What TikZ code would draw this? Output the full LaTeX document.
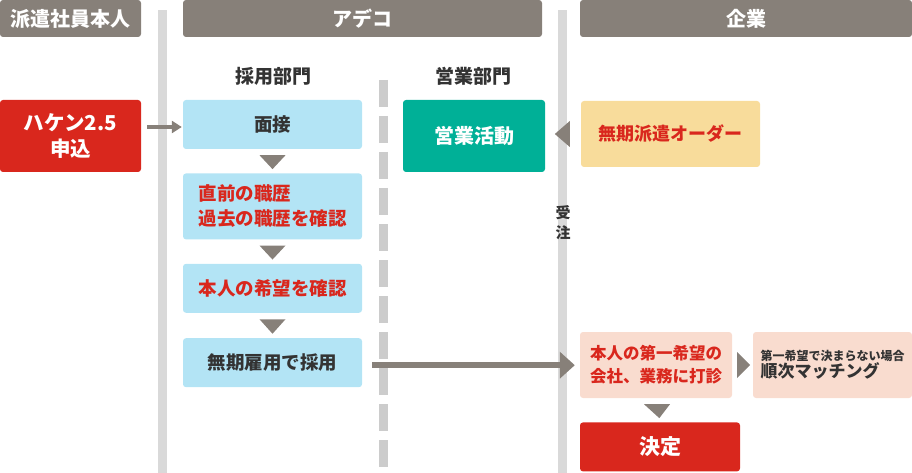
\documentclass[tikz,border=0pt]{standalone}
\usepackage{fontspec}
\setmainfont{Noto Sans CJK JP}
\usepackage{tikz}
\usetikzlibrary{positioning, calc, arrows.meta}

\definecolor{headgray}{HTML}{878079}
\definecolor{bargray}{HTML}{D9D9D9}
\definecolor{dashgray}{HTML}{CCCCCC}
\definecolor{hakenred}{HTML}{D9271D}
\definecolor{skyblue}{HTML}{B3E4F5}
\definecolor{eigyougreen}{HTML}{00B097}
\definecolor{orderyellow}{HTML}{F8DC9B}
\definecolor{peach}{HTML}{F9DCCF}
\definecolor{darktext}{HTML}{333333}

\begin{document}
\begin{tikzpicture}[x=1pt, y=-1pt, node distance=24pt,
  head node/.style={rectangle, rounded corners=3pt, fill=headgray, text=white, inner sep=0pt,
    minimum height=37pt, font=\fontsize{20}{22}\selectfont\bfseries},
  main node/.style={rectangle, rounded corners=3pt, fill=skyblue, inner sep=0pt,
    minimum width=179pt, minimum height=49pt, font=\fontsize{18.5}{25}\selectfont\bfseries},
  label node/.style={text=darktext, font=\fontsize{19}{22}\selectfont\bfseries},
  marker/.style={fill=headgray},
  arrow line/.style={draw=headgray, line width=4pt, -{Triangle[width=12pt,length=10pt]}}]

\useasboundingbox (0,0) rectangle (912,473);

\fill[bargray] (158,10) rectangle (167,473);
\fill[bargray] (558,10) rectangle (567,473);
\draw[dashgray, line width=9pt, dash pattern=on 27pt off 9pt] (383.5,80) -- (383.5,473);

\node[head node, minimum width=141pt] (H1) at (70.5,18.5) {派遣社員本人};
\node[head node, minimum width=359pt] (H2) at (362.5,18.5) {アデコ};
\node[head node, minimum width=332pt] (H3) at (746,18.5) {企業};

\node[label node] (S1) at (273,76) {採用部門};
\node[label node] (S2) at (473,76) {営業部門};

\node[main node, fill=hakenred, text=white, minimum width=141pt, minimum height=72pt,
  align=center, font=\fontsize{20.5}{26}\selectfont\bfseries] (haken) at (70.5,136) {ハケン2.5\\申込};

\node[main node, text=darktext] (mensetsu) at (272.5,124.5) {面接};
\node[main node, text=hakenred, minimum height=66pt, align=left] (rireki) [below=of mensetsu] {直前の職歴\\過去の職歴を確認};
\node[main node, text=hakenred] (kibou) [below=of rireki] {本人の希望を確認};
\node[main node, text=darktext] (saiyou) [below=25pt of kibou] {無期雇用で採用};

\node[main node, fill=eigyougreen, text=white, minimum width=142pt, minimum height=72pt,
  font=\fontsize{20}{24}\selectfont\bfseries] (eigyou) at (474,136) {営業活動};
\node[main node, fill=orderyellow, text=hakenred, minimum height=66pt,
  font=\fontsize{18}{22}\selectfont\bfseries] (order) at (670.5,134) {無期派遣オーダー};

\node[text=darktext, align=center, font=\fontsize{15}{20}\selectfont\bfseries] (juchu) at (563,223) {受\\注};

\node[main node, fill=peach, text=hakenred, minimum width=152pt, minimum height=66pt,
  align=left, font=\fontsize{16.5}{23}\selectfont\bfseries] (dashin) at (656,365) {本人の第一希望の\\会社、業務に打診};
\node[main node, fill=peach, text=darktext, minimum width=159pt, minimum height=66pt,
  align=left, font=\bfseries] (junji) at (832.5,365)
  {{\fontsize{12}{17}\selectfont 第一希望で決まらない場合}\\{\fontsize{17}{21}\selectfont 順次マッチング}};
\node[main node, fill=hakenred, text=white, minimum width=160pt,
  font=\fontsize{21}{24}\selectfont\bfseries] (kettei) [below=24pt of dashin, xshift=4pt] {決定};

\draw[arrow line] ($(haken.east |- mensetsu.west)+(6,2.5)$) -- ($(mensetsu.west)+(-1,2.5)$);
\draw[arrow line, line width=6pt, -{Triangle[width=26pt,length=15pt]}] ($(saiyou.east)+(10,2.5)$) -- ($(dashin.west |- saiyou.east)+(-5,2.5)$);

\foreach \a/\b in {mensetsu/rireki, rireki/kibou, kibou/saiyou, dashin/kettei}
  \fill[marker] ($(\a.south)!0.25!(\b.north)+(-13,0)$) -- ++(26,0) -- ($(\a.south)!0.83!(\b.north)$) -- cycle;

\fill[marker] ($(order.west)+(-11,-13)$) -- ++(0,26) -- ++(-15,-13) -- cycle;
\fill[marker] ($(dashin.east)+(5,-13)$) -- ++(0,26) -- ++(13,-13) -- cycle;

\end{tikzpicture}
\end{document}
